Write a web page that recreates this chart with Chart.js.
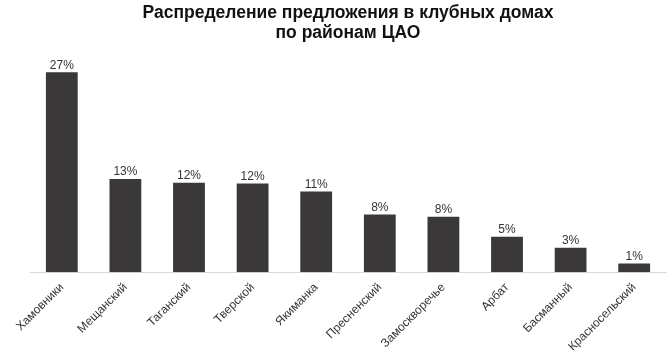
<!DOCTYPE html>
<html>
<head>
<meta charset="utf-8">
<script src="https://cdn.jsdelivr.net/npm/chart.js@4.4.1/dist/chart.umd.min.js"></script>
<style>
  html, body { margin: 0; padding: 0; background: #fff; }
  #wrap { width: 668px; height: 362px; }
</style>
</head>
<body>
<div id="wrap"><canvas id="myChart" width="668" height="362"></canvas></div>
<script>
// districts of the Central administrative okrug
const districts = ['Хамовники', 'Мещанский', 'Таганский', 'Тверской', 'Якиманка',
    'Пресненский', 'Замоскворечье', 'Арбат', 'Басманный', 'Красносельский'];
// share of club-house supply, %
const shares = [27.0, 12.6, 12.1, 12.0, 10.9, 7.8, 7.5, 4.8, 3.3, 1.2];

const titleLines = ['Распределение предложения в клубных домах', 'по районам ЦАО'];

const BAR_COLOR = '#3a3838';

// value labels above the bars
const barLabels = {
    id: 'barLabels',
    afterDatasetsDraw(chart) {
        const ctx = chart.ctx;
        const meta = chart.getDatasetMeta(0);
        ctx.save();
        ctx.font = '12px "Liberation Sans", Arial, sans-serif';
        ctx.fillStyle = '#333';
        ctx.textAlign = 'center';
        ctx.textBaseline = 'bottom';
        meta.data.forEach((bar, i) => {
            ctx.fillText(Math.round(shares[i]) + '%', bar.x, bar.y - 1);
        });
        ctx.restore();
    }
};

const data = {
    labels: districts,
    datasets: [{
        data: shares,
        backgroundColor: BAR_COLOR,
        borderWidth: 0,
        categoryPercentage: 1,
        barPercentage: 0.5
    }]
};

const config = {
    type: 'bar',
    data: data,
    options: {
        responsive: false,
        animation: false,
        layout: {
            padding: { left: 30, right: 2, top: 0, bottom: 0 }
        },
        plugins: {
            legend: { display: false },
            tooltip: { enabled: false },
            title: {
                display: true,
                text: titleLines,
                color: '#111',
                font: { family: '"Liberation Sans", Arial, sans-serif', size: 17.5, weight: 'bold', lineHeight: 1.1 },
                padding: { top: 4, bottom: 12 }
            }
        },
        scales: {
            x: {
                grid: { display: false, drawTicks: false },
                border: { display: true, color: '#d9d9d9', width: 1 },
                ticks: {
                    color: '#333',
                    font: { family: '"Liberation Sans", Arial, sans-serif', size: 12 },
                    minRotation: 45,
                    maxRotation: 45,
                    autoSkip: false,
                    padding: 8
                }
            },
            y: {
                display: false,
                min: 0,
                max: 29.4
            }
        }
    },
    plugins: [barLabels]
};

const ctx = document.getElementById('myChart');
let myChart = new Chart(ctx, config);
</script>
</body>
</html>
